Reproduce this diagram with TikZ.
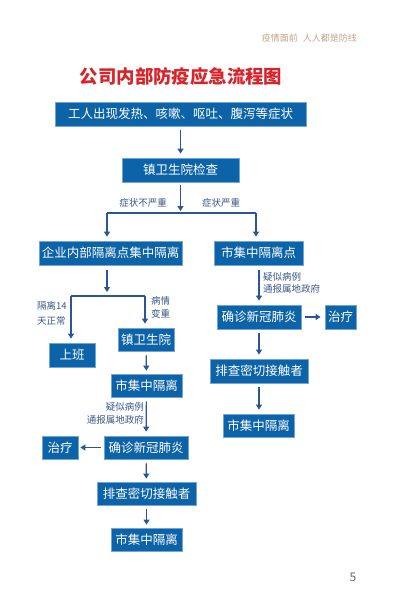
\documentclass[tikz,border=0pt]{standalone}
\usepackage{fontspec}
\setmainfont{Noto Sans CJK SC}
\newfontfamily\cjk{Noto Sans CJK SC}
\usetikzlibrary{arrows.meta}
\definecolor{boxblue}{HTML}{0C63A8}
\definecolor{boxedge}{HTML}{6FA6D6}
\definecolor{linkblue}{HTML}{2A5697}
\definecolor{lblcol}{HTML}{3A5886}
\definecolor{titlered}{HTML}{D8232A}
\definecolor{headtan}{HTML}{C6A48A}
\tikzset{
  flowbox/.style={draw=boxedge, line width=0.8pt, fill=boxblue, text=white, inner sep=0pt,
    font=\cjk\fontsize{12.5}{14}\selectfont, anchor=center},
  link/.style={draw=linkblue, line width=1.2pt},
  arr/.style={link, -{Triangle[width=6pt,length=5pt]}},
  lbl/.style={text=lblcol, font=\cjk\fontsize{9.5}{11}\selectfont, inner sep=0pt},
}
\begin{document}
\begin{tikzpicture}[x=1pt,y=-1pt]
\useasboundingbox[fill=white] (0,0) rectangle (402,616);
% header, title, page number
\node[text=headtan, font=\cjk\fontsize{9}{11}\selectfont, anchor=east, inner sep=0pt] (head) at (357,38) {疫情面前\hspace{5pt}人人都是防线};
\node[text=titlered, font=\cjk\bfseries\fontsize{18.4}{20}\selectfont, inner sep=0pt] (title) at (181,76) {公司内部防疫应急流程图};
\node[text=black!60, font=\fontsize{12}{14}\selectfont, inner sep=0pt] (pnum) at (353,577) {5};
% boxes
\node[flowbox, minimum width=251pt, minimum height=24pt] (b1) at (180.5,114) {工人出现发热、咳嗽、呕吐、腹泻等症状};
\node[flowbox, minimum width=117pt, minimum height=24pt] (b2) at (180.5,170) {镇卫生院检查};
\node[flowbox, minimum width=143pt, minimum height=24pt] (b3) at (110.5,253) {企业内部隔离点集中隔离};
\node[flowbox, minimum width=89pt, minimum height=24pt] (b4) at (258.5,253) {市集中隔离点};
\node[flowbox, minimum width=46pt, minimum height=24pt] (l1) at (72,355) {上班};
\node[flowbox, minimum width=56pt, minimum height=23pt] (l2) at (146,339.5) {镇卫生院};
\node[flowbox, minimum width=71pt, minimum height=23pt] (l3) at (146.5,385.5) {市集中隔离};
\node[flowbox, minimum width=84pt, minimum height=23pt] (l4) at (146,447.5) {确诊新冠肺炎};
\node[flowbox, minimum width=36pt, minimum height=23pt] (l5) at (60,447.5) {治疗};
\node[flowbox, minimum width=99pt, minimum height=23pt] (l6) at (146.5,493.5) {排查密切接触者};
\node[flowbox, minimum width=71pt, minimum height=23pt] (l7) at (146.5,539.5) {市集中隔离};
\node[flowbox, minimum width=84pt, minimum height=24pt] (r1) at (259,317) {确诊新冠肺炎};
\node[flowbox, minimum width=31pt, minimum height=24pt] (r2) at (340.5,317) {治疗};
\node[flowbox, minimum width=98pt, minimum height=24pt] (r3) at (259,371) {排查密切接触者};
\node[flowbox, minimum width=71pt, minimum height=23pt] (r4) at (258.5,425.5) {市集中隔离};
% junction coordinates
\coordinate (s1a) at (180.5,211);
\coordinate (s1l) at (107,213);
\coordinate (s1r) at (256,213);
\coordinate (b3o) at (107,265);
\coordinate (s2a) at (107,292);
\coordinate (s2l) at (71,296);
\coordinate (s2r) at (145,296);
% connectors
\draw[arr, shorten <=4pt, shorten >=4pt] (b1) -- (b2);
\draw[arr, shorten <=3pt] (b2) -- (s1a);
\draw[link] (s1l) -- (s1r);
\draw[arr, shorten >=4pt] (s1l) -- (s1l |- b3.north);
\draw[arr, shorten >=4pt] (s1r) -- (s1r |- b4.north);
\draw[arr, shorten <=5pt] (b3o) -- (s2a);
\draw[link] (s2l) -- (s2r);
\draw[arr, shorten >=4pt] (s2l) -- (s2l |- l1.north);
\draw[arr, shorten >=4pt] (s2r) -- (s2r |- l2.north);
\draw[arr, shorten <=4pt, shorten >=3pt] (l2) -- (l3);
\draw[arr, shorten <=4pt, shorten >=4pt] (l3) -- (l4);
\draw[arr, shorten <=3pt, shorten >=2pt] (l4) -- (l5);
\draw[arr, shorten <=4pt, shorten >=3pt] (l4) -- (l6);
\draw[arr, shorten <=4pt, shorten >=3pt] (l6) -- (l7);
\draw[arr, shorten <=5pt, shorten >=4pt] (b4.south -| r1) -- (r1);
\draw[arr, shorten <=4pt, shorten >=4pt] (r1) -- (r2);
\draw[arr, shorten <=4pt, shorten >=4pt] (r1) -- (r3);
\draw[arr, shorten <=4pt, shorten >=4pt] (r3) -- (r3 |- r4.north);
% labels
\node[lbl, anchor=east] (t1) at (167,203) {症状不严重};
\node[lbl, anchor=west] (t2) at (202,203) {症状严重};
\node[lbl, anchor=west] (t3) at (37,306) {隔离14};
\node[lbl, anchor=west] (t4) at (37,321) {天正常};
\node[lbl, anchor=west] (t5) at (151,301) {病情};
\node[lbl, anchor=west] (t6) at (151,314) {变重};
\node[lbl, anchor=east] (t7) at (144,407) {疑似病例};
\node[lbl, anchor=east] (t8) at (144,420) {通报属地政府};
\node[lbl, anchor=west] (t9) at (263,277) {疑似病例};
\node[lbl, anchor=west] (t10) at (263,289) {通报属地政府};
\end{tikzpicture}
\end{document}
